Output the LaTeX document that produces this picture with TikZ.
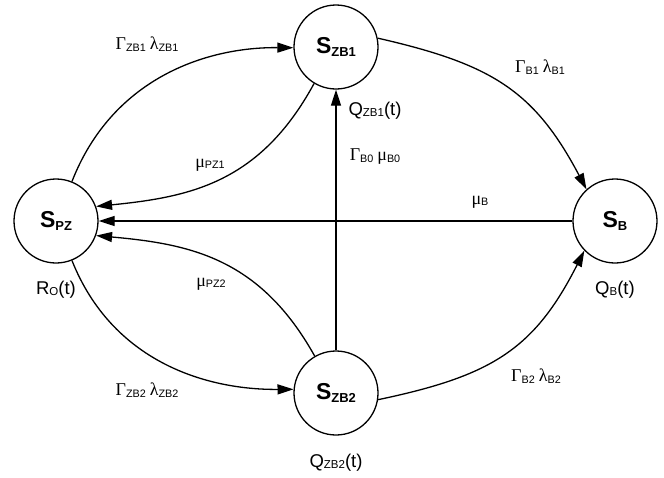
\documentclass[tikz,border=0pt]{standalone}
\usepackage{fontspec}
\setmainfont{Liberation Sans}
\newfontfamily\grk{Liberation Serif}
\usetikzlibrary{arrows.meta}
\newcommand\stname[2]{{\fontsize{23}{23}\selectfont\bfseries #1}\raisebox{-2.7pt}{\fontsize{13}{13}\selectfont\bfseries #2}}
\newcommand\gsub[2]{{\grk\fontsize{18}{18}\selectfont #1}\raisebox{-1.5pt}{\fontsize{10.8}{11}\selectfont #2}}
\newcommand\tlab[2]{{\fontsize{18.5}{19}\selectfont #1}\raisebox{-1pt}{\fontsize{11.5}{12}\selectfont #2}{\fontsize{18.5}{19}\selectfont(t)}}
\begin{document}
\begin{tikzpicture}[x=1pt,y=-1pt,
  state/.style={circle,draw,line width=1.3pt,minimum size=84pt,inner sep=0pt},
  conn/.style={line width=1.3pt,-{Triangle[length=16pt,width=10pt]}},
  lab/.style={inner sep=0pt}]
\useasboundingbox (0,0) rectangle (664,477);
\node[state] (pz)  at (56,221)  {\stname{S}{PZ}};
\node[state] (zb1) at (336,47)  {\stname{S}{ZB1}};
\node[state] (zb2) at (336,393) {\stname{S}{ZB2}};
\node[state] (b)   at (615,221) {\stname{S}{B}};
% connectors
\draw[conn] (pz.68) .. controls (112,79) and (205,47) .. (zb1.181);
\draw[conn] (zb1.239.5) .. controls (260,183) and (190,197) .. (pz.20);
\draw[conn] (b) -- (pz);
\draw[conn] (zb2.120.5) .. controls (260,258) and (190,244) .. (pz.-20);
\draw[conn] (pz.-68) .. controls (112,361) and (205,390) .. (zb2.175);
\draw[conn] (zb2) -- (zb1);
\draw[conn] (zb1.12) .. controls (491,64) and (534,90) .. (b.132);
\draw[conn] (zb2.-9.5) .. controls (491,376) and (534,350) .. (b.224);
% labels
\node[lab] (l1) at (147,44)  {\gsub{Γ}{ZB1}\hspace{4pt}\gsub{λ}{ZB1}};
\node[lab] (l2) at (210,165) {\gsub{μ}{PZ1}};
\node[lab] (l3) at (211,284) {\gsub{μ}{PZ2}};
\node[lab] (l4) at (147,390) {\gsub{Γ}{ZB2}\hspace{4pt}\gsub{λ}{ZB2}};
\node[lab] (l5) at (375,111) {\tlab{Q}{ZB1}};
\node[lab] (l6) at (375,157) {\gsub{Γ}{B0}\hspace{4pt}\gsub{μ}{B0}};
\node[lab] (l7) at (480,202) {\gsub{μ}{B}};
\node[lab] (l8) at (540,67)  {\gsub{Γ}{B1}\hspace{4pt}\gsub{λ}{B1}};
\node[lab] (l9) at (536,376) {\gsub{Γ}{B2}\hspace{4pt}\gsub{λ}{B2}};
\node[lab] (r0) at (56,290)  {\tlab{R}{O}};
\node[lab] (qb) at (615,290) {\tlab{Q}{B}};
\node[lab] (q2) at (336,463) {\tlab{Q}{ZB2}};
\end{tikzpicture}
\end{document}
